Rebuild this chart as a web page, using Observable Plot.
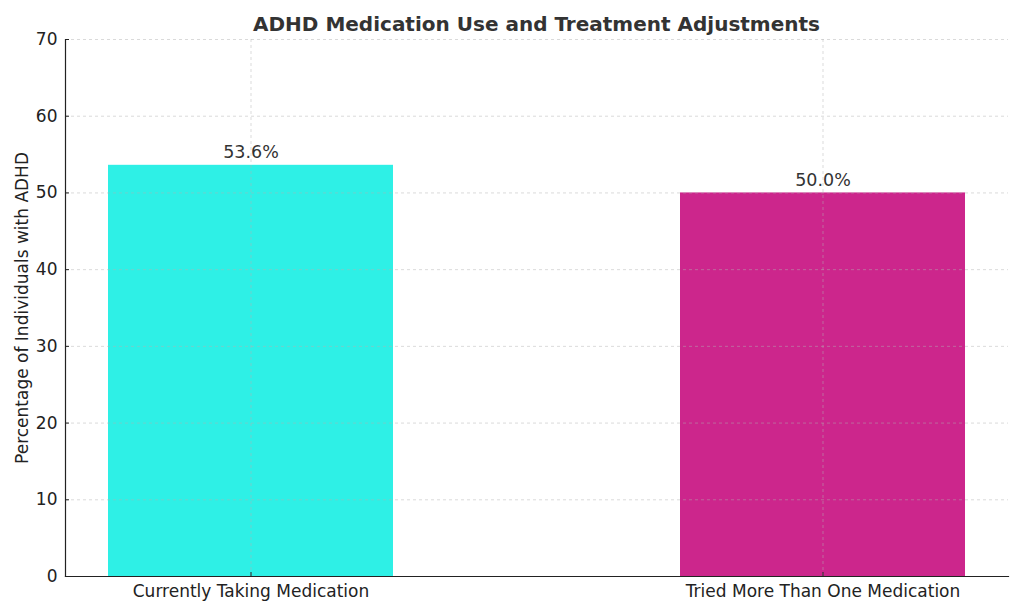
<!DOCTYPE html>
<html>
<head>
<meta charset="utf-8">
<script src="https://cdn.jsdelivr.net/npm/d3@7"></script>
<script src="https://cdn.jsdelivr.net/npm/@observablehq/plot@0.6"></script>
<style>
  html, body { margin: 0; padding: 0; background: #fff; }
  #wrap { position: relative; width: 1024px; height: 614px; font-family: "DejaVu Sans", sans-serif; }
  #title { position: absolute; left: 65px; width: 943px; top: 11px; text-align: center; font-size: 20px; line-height: 26px; font-weight: bold; color: #333; }
  #chart { position: absolute; left: 0; top: 0; }
</style>
</head>
<body>
<div id="wrap">
  <div id="chart"></div>
  <div id="title">ADHD Medication Use and Treatment Adjustments</div>
</div>
<script>
const categories = ["Currently Taking Medication", "Tried More Than One Medication"];
const values = [53.6, 50.0];
const colors = ["#2EF0E6", "#CC268C"];
const yTicks = [0, 10, 20, 30, 40, 50, 60, 70];

const data = categories.map((c, i) => ({category: c, value: values[i], color: colors[i]}));

const chart = Plot.plot({
  width: 1024,
  height: 614,
  marginLeft: 65,
  marginRight: 16,
  marginTop: 39,
  marginBottom: 38,
  style: {fontFamily: "DejaVu Sans, sans-serif", fontSize: "17px", color: "#222", background: "#fff"},
  x: {domain: categories, paddingInner: 0.502, paddingOuter: 0.0753, label: null},
  y: {domain: [0, 70], ticks: yTicks, label: null},
  marks: [
    Plot.barY(data, {x: "category", y: "value", fill: "color"}),
    Plot.gridY(yTicks, {stroke: "#b0b0b0", strokeOpacity: 0.6, strokeDasharray: "3,3", strokeWidth: 0.8}),
    Plot.gridX(categories, {stroke: "#b0b0b0", strokeOpacity: 0.6, strokeDasharray: "3,3", strokeWidth: 0.8}),
    Plot.axisY(yTicks, {tickSize: -4, tickPadding: 12, fontSize: 17, fill: "#222", stroke: "#222", label: null}),
    Plot.axisX(categories, {tickSize: -4, tickPadding: 12, fontSize: 17, fill: "#222", stroke: "#222", label: null}),
    Plot.frame({anchor: "left", stroke: "#222", strokeWidth: 1.2}),
    Plot.frame({anchor: "bottom", stroke: "#222", strokeWidth: 1.2}),
    Plot.text(data, {x: "category", y: "value", text: d => d.value.toFixed(1) + "%", dy: -7, lineAnchor: "bottom", fontSize: 17.5, fill: "#333"}),
    Plot.text(["Percentage of Individuals with ADHD"], {frameAnchor: "left", textAnchor: "middle", dx: -43, rotate: -90, fontSize: 17, fill: "#222"})
  ]
});
document.getElementById("chart").appendChild(chart);
</script>
</body>
</html>
